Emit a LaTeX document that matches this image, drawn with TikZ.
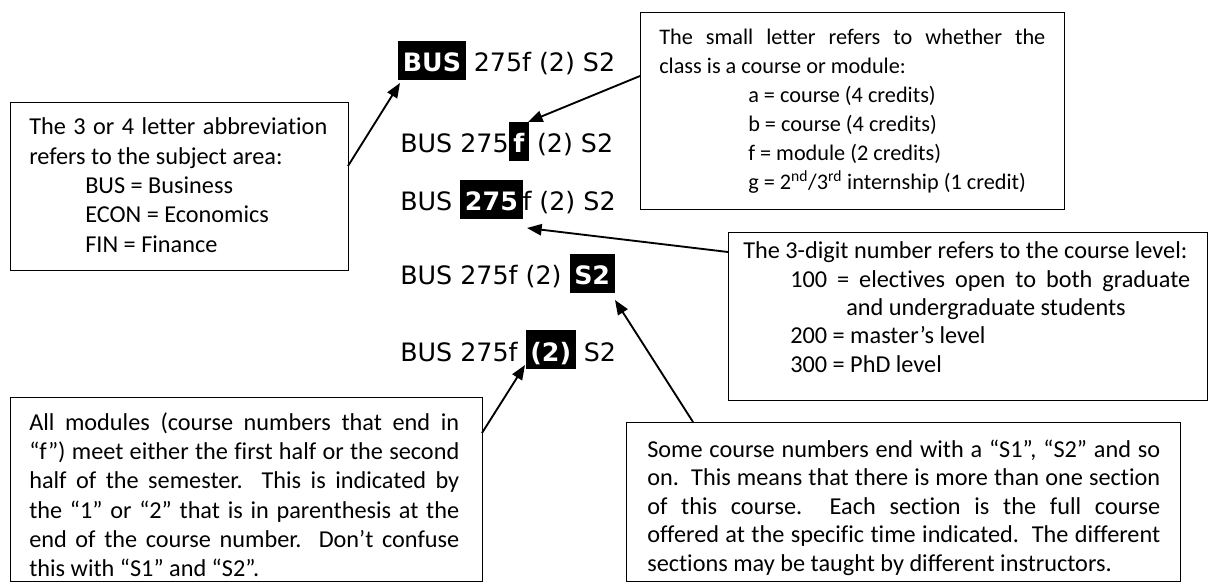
\documentclass[tikz,border=0pt]{standalone}
\usepackage{fontspec}
\setmainfont{Carlito}[Ligatures=NoCommon]
\newfontfamily\codefont{DejaVu Sans}
\usetikzlibrary{arrows.meta}
\newcommand\hlt[1]{{\setlength\fboxsep{0pt}\colorbox{black}{\rule[-6pt]{0pt}{29.5pt}\hspace{3.5pt}\textcolor{white}{\bfseries #1}\hspace{3.5pt}}}}
\newcommand\jl[1]{\makebox[\hsize][s]{#1}}
\newcommand\nsp{\spaceskip=0pt\xspaceskip=0pt\relax}
\frenchspacing
\begin{document}
\begin{tikzpicture}[x=0.75pt,y=-0.75pt,
  frame/.style={draw, line width=1.1pt, inner sep=0pt, anchor=north west},
  txt/.style={anchor=base west, inner sep=0pt, align=left},
  small/.style={font=\fontsize{16.7}{21.75}\selectfont},
  code/.style={anchor=base west, inner sep=0pt, font=\codefont\fontsize{19}{22}\selectfont},
  arr/.style={line width=1.4pt, -{Triangle[length=11pt,width=8.5pt]}}]
\useasboundingbox (0,0) rectangle (1209,584);

% frames
\node[frame, minimum width=253.5pt, minimum height=126pt] (f1) at (10,102) {};
\node[frame, minimum width=318pt, minimum height=147.75pt] (f2) at (640,12) {};
\node[frame, minimum width=359.25pt, minimum height=126pt] (f3) at (728,232) {};
\node[frame, minimum width=354pt, minimum height=138pt] (f4) at (10,397) {};
\node[frame, minimum width=415.5pt, minimum height=119.25pt] (f5) at (626,422) {};

% texts
\node[txt, font=\fontsize{18.2}{22}\selectfont, text width=223.5pt] (t1) at (29,135) {\nsp
\jl{The 3 or 4 letter abbreviation}\\
refers to the subject area:\\
\hspace*{42pt}BUS = Business\\
\hspace*{42pt}ECON = Economics\\
\hspace*{42pt}FIN = Finance};

\node[txt, small, text width=289.5pt] (t2) at (659,44.5) {\nsp
\jl{The small letter refers to whether the}\\
class is a course or module:\\
\hspace*{66.75pt}a = course (4 credits)\\
\hspace*{66.75pt}b = course (4 credits)\\
\hspace*{66.75pt}f = module (2 credits)\\
\hspace*{66.75pt}g = 2\textsuperscript{nd}/3\textsuperscript{rd} internship (1 credit)};

\node[txt, font=\fontsize{18.2}{21.2}\selectfont, text width=335.25pt] (t3) at (743,259) {\nsp
The 3-digit number refers to the course level:\\
\hspace*{35.25pt}\makebox[300pt][s]{100 = electives open to both graduate}\\
\hspace*{77.25pt}and undergraduate students\\
\hspace*{35.25pt}200 = master’s level\\
\hspace*{35.25pt}300 = PhD level};

\node[txt, font=\fontsize{18.2}{22}\selectfont, text width=322.5pt] (t4) at (29,430) {\nsp
\jl{All modules (course numbers that end in}\\
\jl{“f”) meet either the first half or the second}\\
\jl{half of the semester.\ \ This is indicated by}\\
\jl{the “1” or “2” that is in parenthesis at the}\\
\jl{end of the course number.\ \ Don’t confuse}\\
this with “S1” and “S2”.};

\node[txt, font=\fontsize{18.2}{21.4}\selectfont, text width=384.75pt] (t5) at (647,457) {\nsp
\jl{Some course numbers end with a “S1”, “S2” and so}\\
\jl{on.\ \ This means that there is more than one section}\\
\jl{of this course.\ \ Each section is the full course}\\
\jl{offered at the specific time indicated.\ \ The different}\\
sections may be taught by different instructors.};

% code lines
\node[code] (l1) at (398,72) {\hlt{BUS} 275f (2) S2};
\node[code] (l2) at (400,153) {BUS 275\hlt{f} (2) S2};
\node[code] (l3) at (400,211) {BUS \hlt{275}f (2) S2};
\node[code] (l4) at (400,285) {BUS 275f (2) \hlt{S2}};
\node[code] (l5) at (400,361) {BUS 275f \hlt{(2)} S2};

% connector ends
\coordinate (a1s) at (348,166);
\coordinate (a1e) at (400,83);
\coordinate (a2s) at (640,76);
\coordinate (a2e) at (528,122);
\coordinate (a3s) at (728,252);
\coordinate (a3e) at (527,228);
\coordinate (a4s) at (693,422);
\coordinate (a4e) at (615,300);
\coordinate (a5s) at (482,433);
\coordinate (a5e) at (525,365);

\draw[arr] (a1s) -- (a1e);
\draw[arr] (a2s) -- (a2e);
\draw[arr] (a3s) -- (a3e);
\draw[arr] (a4s) -- (a4e);
\draw[arr] (a5s) -- (a5e);
\end{tikzpicture}
\end{document}
